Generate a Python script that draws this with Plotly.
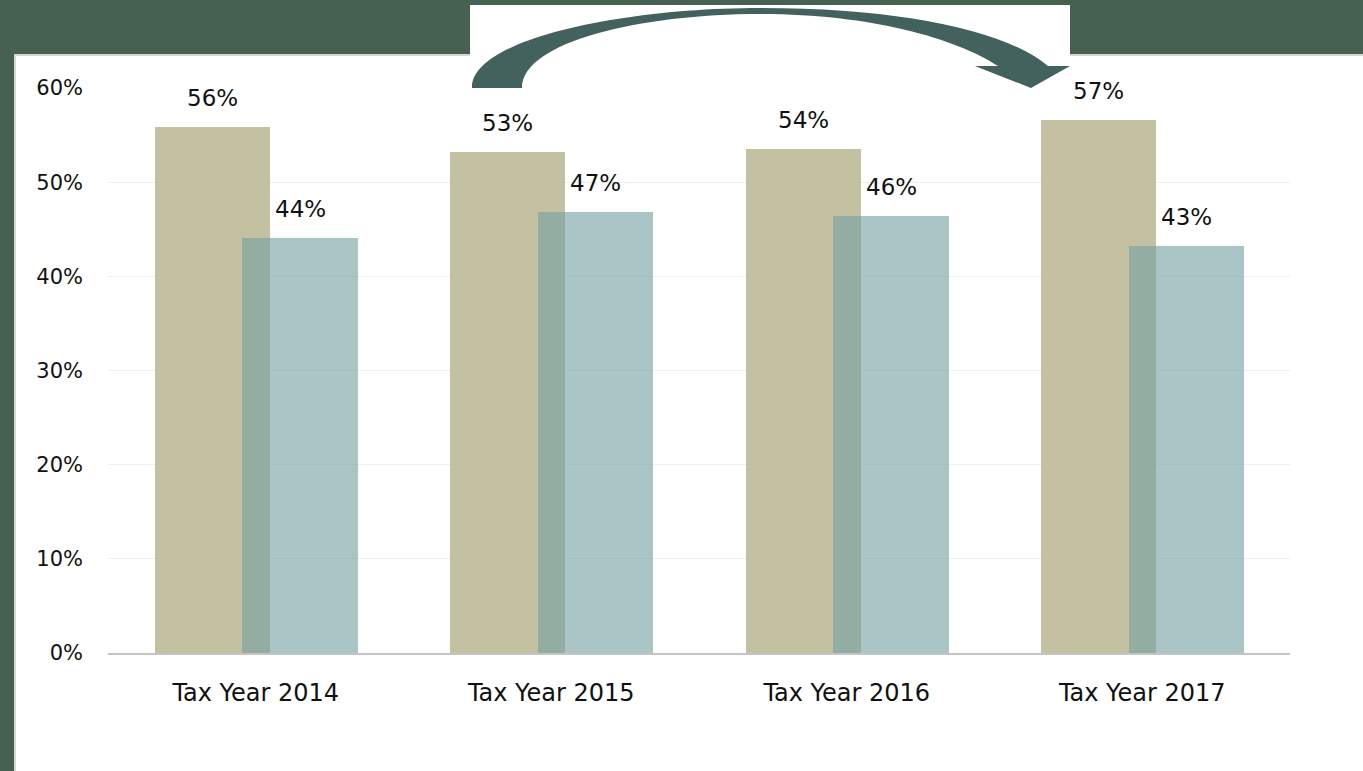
import plotly.graph_objects as go

# ---- data ----
categories = ["Tax Year 2014", "Tax Year 2015", "Tax Year 2016", "Tax Year 2017"]
series_a = [55.9, 53.2, 53.5, 56.6]   # tan bars
series_b = [44.1, 46.8, 46.4, 43.2]   # teal bars
labels_a = ["56%", "53%", "54%", "57%"]
labels_b = ["44%", "47%", "46%", "43%"]
y_ticks = [0, 10, 20, 30, 40, 50, 60]
y_tick_text = ["0%", "10%", "20%", "30%", "40%", "50%", "60%"]

# ---- layout constants ----
W, H = 1363, 771
ML, MR, MT, MB = 108, 73, 88, 118
PW, PH = W - ML - MR, H - MT - MB
FONT = "DejaVu Sans"
TAN = "#c4c0a2"
TEAL = "rgba(118,162,163,0.62)"
BG_GREEN = "#466051"
ARROW = "#43625e"

BAR_W = 0.39
OFF_A = -0.342
OFF_B = -0.045


def px(x):
    return (x - ML) / PW


def py(y):
    return (H - MB - y) / PH


fig = go.Figure()
fig.add_trace(go.Bar(x=categories, y=series_a, width=BAR_W, offset=OFF_A,
                     marker=dict(color=TAN, line=dict(width=0)),
                     hoverinfo="skip", showlegend=False))
fig.add_trace(go.Bar(x=categories, y=series_b, width=BAR_W, offset=OFF_B,
                     marker=dict(color=TEAL, line=dict(width=0)),
                     hoverinfo="skip", showlegend=False))

annotations = []
for i, (v, t) in enumerate(zip(series_a, labels_a)):
    annotations.append(dict(x=i + OFF_A + BAR_W / 2, y=v, xref="x", yref="y",
                            text=t, showarrow=False, yanchor="middle", yshift=29,
                            font=dict(family=FONT, size=23, color="#111111")))
for i, (v, t) in enumerate(zip(series_b, labels_b)):
    annotations.append(dict(x=i + OFF_B + BAR_W / 2, y=v, xref="x", yref="y",
                            text=t, showarrow=False, yanchor="middle", yshift=29,
                            font=dict(family=FONT, size=23, color="#111111")))


def P(x, y):
    return f"{px(x):.5f},{py(y):.5f}"


arrow_path = (
    f"M {P(472, 88)} "
    f"C {P(470, 40)} {P(620, 8)} {P(760, 8)} "
    f"C {P(900, 8)} {P(1005, 30)} {P(1048, 66)} "
    f"L {P(1070, 66)} L {P(1031, 88)} L {P(975, 66)} L {P(998, 66)} "
    f"C {P(955, 38)} {P(870, 14)} {P(760, 14)} "
    f"C {P(640, 14)} {P(522, 42)} {P(522, 88)} Z"
)

shapes = [
    # white panel
    dict(type="rect", xref="paper", yref="paper", layer="below",
         x0=px(15), x1=px(W + 10), y0=py(H + 10), y1=py(55),
         fillcolor="white", line=dict(color="#d6d6d6", width=2)),
    # white box behind the arrow
    dict(type="rect", xref="paper", yref="paper", layer="below",
         x0=px(470), x1=px(1070), y0=py(58), y1=py(5),
         fillcolor="white", line=dict(width=0)),
    # curved arrow
    dict(type="path", xref="paper", yref="paper", layer="above",
         path=arrow_path, fillcolor=ARROW, line=dict(width=0)),
]

fig.update_layout(
    width=W, height=H,
    margin=dict(l=ML, r=MR, t=MT, b=MB, pad=0),
    paper_bgcolor=BG_GREEN,
    plot_bgcolor="white",
    barmode="overlay",
    bargap=0,
    showlegend=False,
    shapes=shapes,
    annotations=annotations,
    xaxis=dict(type="category", showgrid=False, zeroline=False,
               showline=True, linecolor="#c4c4c4", linewidth=2,
               ticks="", ticklabelstandoff=17,
               tickfont=dict(family=FONT, size=24, color="#111111"),
               range=[-0.5, 3.5], fixedrange=True),
    yaxis=dict(range=[0, 60], tickvals=y_ticks, ticktext=y_tick_text,
               showgrid=True, gridcolor="#eeeeee", gridwidth=1,
               zeroline=False, showline=False, ticks="",
               ticklabelstandoff=24,
               tickfont=dict(family=FONT, size=21, color="#111111"),
               fixedrange=True),
)

fig.write_html("out.html",
               config={"displayModeBar": False},
               post_script="document.body.style.margin='0';document.body.style.overflow='hidden';")
